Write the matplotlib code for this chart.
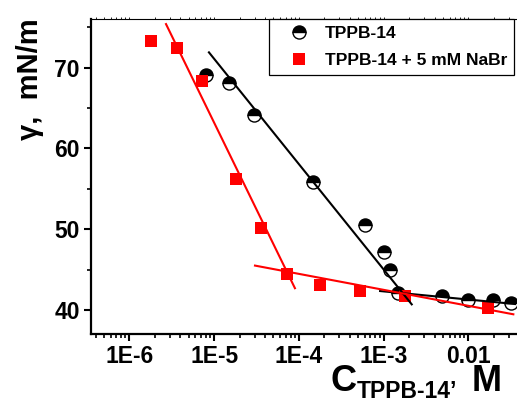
import numpy as np
import matplotlib
matplotlib.use("Agg")
import matplotlib.pyplot as plt
from matplotlib.ticker import FixedLocator, FixedFormatter, LogLocator, MultipleLocator, NullFormatter
from matplotlib.lines import Line2D

plt.rcParams['font.family'] = ['Liberation Sans', 'DejaVu Sans']
plt.rcParams['font.weight'] = 'bold'

# Surface tension isotherms
conc_tppb = [8.0e-6, 1.5e-5, 2.96e-5, 1.48e-4, 6.0e-4, 1.01e-3, 1.19e-3,
             1.49e-3, 4.85e-3, 1.0e-2, 1.97e-2, 3.16e-2]
gamma_tppb = [69.1, 68.1, 64.1, 55.9, 50.5, 47.2, 45.0, 42.1, 41.7, 41.3, 41.3, 40.9]

conc_nabr = [1.8e-6, 3.62e-6, 7.14e-6, 1.82e-5, 3.58e-5, 7.2e-5, 1.78e-4,
             5.27e-4, 1.79e-3, 1.72e-2]
gamma_nabr = [73.3, 72.4, 68.3, 56.2, 50.1, 44.5, 43.1, 42.3, 41.7, 40.3]

# Linear fits (gamma vs log C), given by their end points
fit_tppb_steep_c = [8.7e-6, 2.15e-3]
fit_tppb_steep_g = [71.9, 40.7]
fit_tppb_flat_c = [9.1e-4, 3.56e-2]
fit_tppb_flat_g = [42.35, 40.74]
fit_nabr_steep_c = [2.71e-6, 9.0e-5]
fit_nabr_steep_g = [75.4, 42.7]
fit_nabr_flat_c = [3.04e-5, 3.4e-2]
fit_nabr_flat_g = [45.5, 39.47]

xtick_values = [1e-6, 1e-5, 1e-4, 1e-3, 1e-2]
xtick_labels = ['1E-6', '1E-5', '1E-4', '1E-3', '0.01']
ytick_values = [40, 50, 60, 70]

W, H = 517, 403
fig = plt.figure(figsize=(W / 100, H / 100), dpi=100)
ax = fig.add_axes([91 / W, 1 - 334 / H, (W - 91) / W, (334 - 19) / H])

ax.set_xscale('log')
ax.set_xlim(3.53e-7, 0.03755)
ax.set_ylim(37.03, 76.03)

# data points
ax.plot(conc_tppb, gamma_tppb, linestyle='none', marker='o', markersize=9.4,
        fillstyle='top', markerfacecolor='black', markerfacecoloralt='white',
        markeredgecolor='black', markeredgewidth=1.0, zorder=3)
ax.plot(conc_nabr, gamma_nabr, linestyle='none', marker='s', markersize=8.6,
        color='#ff0000', markeredgewidth=0, zorder=3)

# fit lines
ax.plot(fit_tppb_steep_c, fit_tppb_steep_g, color='black', lw=1.5, zorder=4)
ax.plot(fit_tppb_flat_c, fit_tppb_flat_g, color='black', lw=1.5, zorder=4)
ax.plot(fit_nabr_steep_c, fit_nabr_steep_g, color='#ff0000', lw=1.5, zorder=4)
ax.plot(fit_nabr_flat_c, fit_nabr_flat_g, color='#ff0000', lw=1.5, zorder=4)

# axes styling
for side in ('left', 'bottom'):
    ax.spines[side].set_linewidth(1.6)
ax.spines['top'].set_linewidth(0.8)
ax.spines['right'].set_visible(False)

ax.xaxis.set_major_locator(FixedLocator(xtick_values))
ax.xaxis.set_major_formatter(FixedFormatter(xtick_labels))
ax.xaxis.set_minor_locator(LogLocator(base=10, subs=np.arange(2, 10), numticks=20))
ax.xaxis.set_minor_formatter(NullFormatter())
ax.yaxis.set_major_locator(FixedLocator(ytick_values))
ax.yaxis.set_minor_locator(MultipleLocator(5))

ax.tick_params(axis='x', which='major', direction='out', length=5, width=1.5,
               labelsize=16.5, pad=3, top=True)
ax.tick_params(axis='x', which='minor', direction='out', length=3, width=1.2, top=True)
ax.tick_params(axis='y', which='major', direction='out', length=5, width=1.5,
               labelsize=16.5, pad=3)
ax.tick_params(axis='y', which='minor', direction='out', length=3, width=1.2)
for t in ax.xaxis.get_major_ticks() + ax.xaxis.get_minor_ticks():
    t.tick2line.set_markersize(1.5)
    t.tick2line.set_markeredgewidth(0.6)
    t.tick2line.set_color('#555555')
for lbl in ax.get_xticklabels() + ax.get_yticklabels():
    lbl.set_fontweight('bold')

# legend
handles = [
    Line2D([], [], linestyle='none', marker='o', markersize=9.4, fillstyle='top',
           markerfacecolor='black', markerfacecoloralt='white',
           markeredgecolor='black', markeredgewidth=1.0),
    Line2D([], [], linestyle='none', marker='s', markersize=8.6,
           color='#ff0000', markeredgewidth=0),
]
leg = ax.legend(handles, ['TPPB-14', 'TPPB-14 + 5 mM NaBr'],
                loc='upper right', bbox_to_anchor=(514 / W, 1 - 19 / H),
                bbox_transform=fig.transFigure,
                prop={'weight': 'bold', 'size': 12.5}, frameon=True,
                fancybox=False, framealpha=1, edgecolor='black',
                borderpad=0.4, labelspacing=0.7, handlelength=2.6,
                handletextpad=0.2, borderaxespad=0)
leg.get_frame().set_linewidth(0.9)

# axis titles
fig.text(37.5 / W, 1 - 140 / H, 'γ,  mN/m', rotation=90, rotation_mode='anchor',
         ha='left', va='baseline', fontsize=21, fontweight='bold')
fig.text(330 / W, 1 - 391 / H, 'C', ha='left', va='baseline',
         fontsize=26, fontweight='bold')
fig.text(357 / W, 1 - 398 / H, 'TPPB-14’', ha='left', va='baseline',
         fontsize=16.5, fontweight='bold')
fig.text(472 / W, 1 - 391 / H, 'M', ha='left', va='baseline',
         fontsize=26, fontweight='bold')

fig.savefig('out.png', dpi=100)
